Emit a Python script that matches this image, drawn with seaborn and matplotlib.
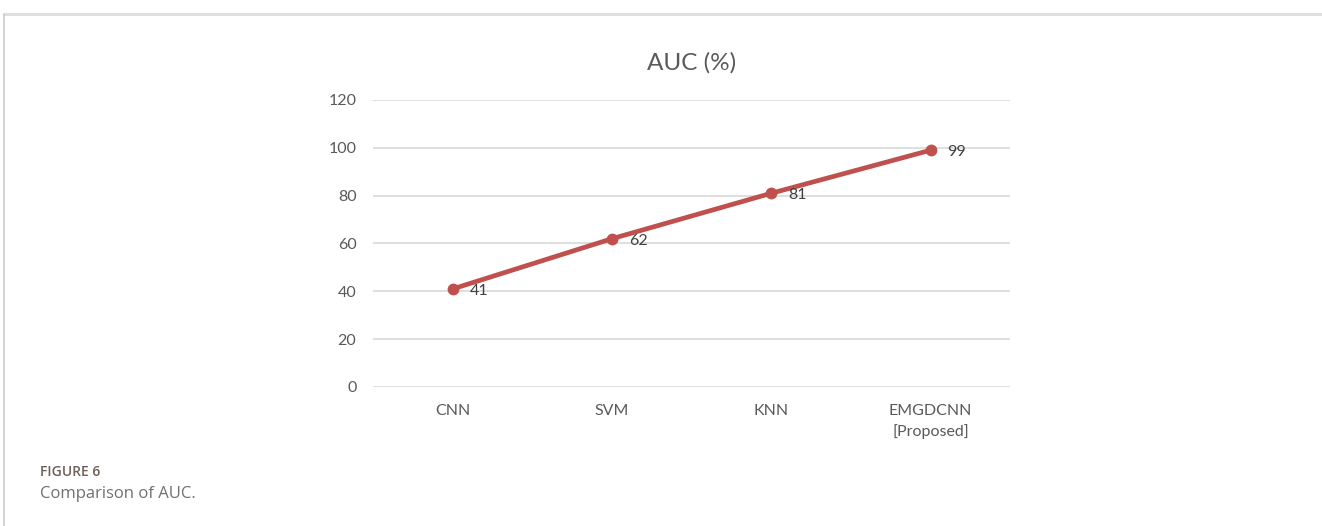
import matplotlib
matplotlib.use("Agg")
import matplotlib.pyplot as plt
from matplotlib.lines import Line2D
import seaborn as sns
import pandas as pd

# Model names and AUC scores
models = ["CNN", "SVM", "KNN", "EMGDCNN\n[Proposed]"]
auc = [41, 62, 81, 99]
yticks = [0, 20, 40, 60, 80, 100, 120]

df = pd.DataFrame({"model": models, "auc": auc})

sns.set_theme(style="white")
plt.rcParams["font.family"] = ["Lato", "DejaVu Sans"]

LINE_RED = "#C0504D"
GRID = "#D9D9D9"
TEXT = "#595959"

fig = plt.figure(figsize=(13.22, 5.26), dpi=100)
ax = fig.add_axes([0.2822, 0.2643, 0.4819, 0.5456])

sns.lineplot(data=df, x="model", y="auc", sort=False, ax=ax,
             color=LINE_RED, linewidth=3.4, marker="o", markersize=8.5,
             markeredgewidth=0, markerfacecolor=LINE_RED)

for i, v in enumerate(auc):
    ax.annotate(f"{v}", (i, v), xytext=(12, -1.5), textcoords="offset points",
                ha="left", va="center", fontsize=11.5, color="#404040")

ax.set_ylim(0, 120)
ax.set_xlim(-0.5, len(models) - 0.5)
ax.set_yticks(yticks)
ax.set_xlabel("")
ax.set_ylabel("")
ax.yaxis.grid(True, color=GRID, linewidth=1.2)
ax.xaxis.grid(False)
for s in ax.spines.values():
    s.set_visible(False)
ax.tick_params(axis="y", length=0, pad=12, labelsize=11.5, labelcolor=TEXT)
ax.tick_params(axis="x", length=0, pad=12, labelsize=11.5, labelcolor=TEXT)
for lab in ax.get_xticklabels():
    lab.set_linespacing(1.5)
ax.set_axisbelow(True)

ax.set_title("AUC (%)", fontsize=17.5, color=TEXT, pad=22)

# Panel frame: top rule and left rule
fig.add_artist(Line2D([4 / 1322, 1.0], [1 - 14 / 526, 1 - 14 / 526],
                      color="#DDDDDD", linewidth=2, transform=fig.transFigure))
fig.add_artist(Line2D([4 / 1322, 4 / 1322], [0, 1 - 14 / 526],
                      color="#CCCCCC", linewidth=1.2, transform=fig.transFigure))

# Figure caption
fig.text(40 / 1322, 1 - 472 / 526, "FIGURE 6", fontsize=10, color="#6E5F58",
         family=["Open Sans", "DejaVu Sans"], fontweight="semibold",
         va="center", ha="left")
fig.text(40 / 1322, 1 - 494 / 526, "Comparison of AUC.", fontsize=12,
         color="#707070", family=["Open Sans", "DejaVu Sans"],
         va="center", ha="left")

fig.savefig("out.png", dpi=100, facecolor="white")
